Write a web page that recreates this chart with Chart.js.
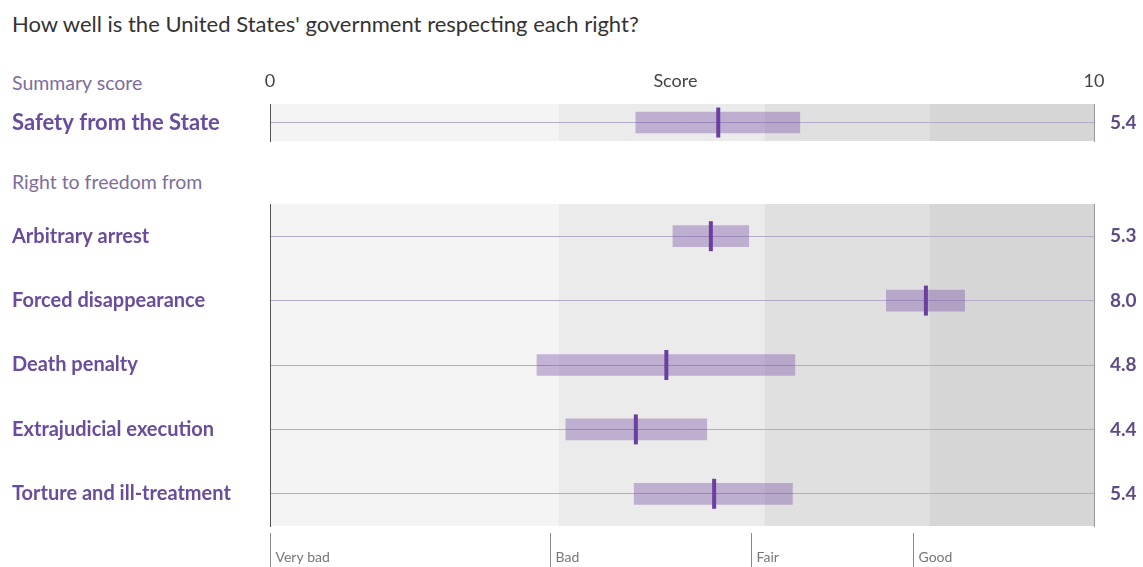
<!DOCTYPE html>
<html>
<head>
    <title>Safety from the State</title>
    <style>
        body{
            margin:0;
            background:#fff;
            font-family:Lato, sans-serif;
            width:1143px;
            height:567px;
            position:relative;
            overflow:hidden;
        }
        h1{
            position:absolute;
            left:12px;
            top:10px;
            margin:0;
            font-size:22px;
            font-weight:normal;
            color:#333;
        }
        .sub{
            position:absolute;
            left:12px;
            font-size:19.5px;
            color:#7d6e9c;
        }
        #summaryWrap{position:absolute;left:0;top:66px;width:1143px;height:80px;}
        #rowsWrap{position:absolute;left:0;top:204px;width:1143px;height:363px;}
    </style>
</head>
<body>
<h1>How well is the United States' government respecting each right?</h1>
<div class="sub" style="top:71px;">Summary score</div>
<div class="sub" style="top:170px;">Right to freedom from</div>

<div id="summaryWrap"><canvas id="summary"></canvas></div>
<div id="rowsWrap"><canvas id="rights"></canvas></div>

<script src="https://cdn.jsdelivr.net/npm/chart.js@4.4.1/dist/chart.umd.min.js"></script>
<script>

    // summary row
    const summaryLabels = ["Safety from the State"];
    const summaryScore = [5.44];
    const summaryLow = [4.44];
    const summaryHigh = [6.43];
    const summaryText = ["5.4"];

    // rights rows
    const rightLabels = ["Arbitrary arrest", "Forced disappearance", "Death penalty", "Extrajudicial execution", "Torture and ill-treatment"];
    const rightScore = [5.35, 7.96, 4.81, 4.44, 5.39];
    const rightLow = [4.89, 7.48, 3.24, 3.59, 4.42];
    const rightHigh = [5.81, 8.43, 6.37, 5.30, 6.34];
    const rightText = ["5.3", "8.0", "4.8", "4.4", "5.4"];

    // background bands and band names
    const bandEdges = [0, 3.5, 6, 8, 10];
    const bandColors = ["#f4f4f4", "#ebebeb", "#e0e0e0", "#d6d6d6"];
    const bandNames = ["Very bad", "Bad", "Fair", "Good"];
    const bandNameAt = [0, 3.4, 5.84, 7.8];

    // top axis
    const topTicks = [0, 4.92, 10];
    const topTickText = ["0", "Score", "10"];

    const bandsPlugin = {
        id: "bands",
        beforeDraw(chart) {
            const ctx = chart.ctx;
            const area = chart.chartArea;
            const x = chart.scales.x;
            ctx.save();
            for (let i = 0; i < bandColors.length; i++) {
                const x0 = x.getPixelForValue(bandEdges[i]);
                const x1 = x.getPixelForValue(bandEdges[i + 1]);
                ctx.fillStyle = bandColors[i];
                ctx.fillRect(x0, area.top, x1 - x0, area.bottom - area.top);
            }
            ctx.restore();
        }
    };

    const bandNamesPlugin = {
        id: "bandNames",
        afterDraw(chart) {
            const ctx = chart.ctx;
            const area = chart.chartArea;
            const x = chart.scales.x;
            ctx.save();
            ctx.font = "14px Lato, sans-serif";
            ctx.textBaseline = "middle";
            ctx.fillStyle = "#777";
            ctx.strokeStyle = "#888";
            ctx.lineWidth = 1;
            bandNames.forEach((name, i) => {
                const px = Math.round(x.getPixelForValue(bandNameAt[i])) + 0.5;
                ctx.beginPath();
                ctx.moveTo(px, area.bottom + 7);
                ctx.lineTo(px, chart.height);
                ctx.stroke();
                ctx.fillText(name, px + 5, area.bottom + 31);
            });
            ctx.restore();
        }
    };

    // vertical axes should not push the plot area in
    function noPad(s) {
        s.paddingTop = 0;
        s.paddingBottom = 0;
    }

    function makeChart(id, labels, low, high, score, text, opts) {
        return new Chart(id, {
            type: "bar",
            data: {
                labels: labels,
                datasets: [{
                    type: "line",
                    indexAxis: "y",
                    data: score,
                    showLine: false,
                    pointStyle: "line",
                    rotation: 90,
                    pointRadius: 15,
                    pointBorderWidth: 4,
                    borderColor: "#6b3fa0",
                    backgroundColor: "#6b3fa0",
                    clip: false,
                    yAxisID: "y"
                }, {
                    data: labels.map((l, i) => [low[i], high[i]]),
                    backgroundColor: "rgba(122,82,167,0.4)",
                    borderWidth: 0,
                    barThickness: 21,
                    yAxisID: "y"
                }]
            },
            options: {
                indexAxis: "y",
                responsive: true,
                maintainAspectRatio: false,
                animation: false,
                events: [],
                layout: { autoPadding: false, padding: { left: 12, right: 0, top: 0, bottom: opts.bottomPad } },
                plugins: { legend: { display: false }, tooltip: { enabled: false } },
                scales: {
                    x: {
                        type: "linear",
                        position: "top",
                        min: 0,
                        max: 10,
                        display: opts.showTop,
                        afterFit: s => { s.height = opts.topHeight; },
                        afterBuildTicks: s => { s.ticks = topTicks.map(v => ({ value: v })); },
                        ticks: {
                            autoSkip: false,
                            maxRotation: 0,
                            padding: 12,
                            color: "#444",
                            font: { family: "Lato", size: 18 },
                            callback: (v, i) => topTickText[i]
                        },
                        grid: { display: false, drawTicks: false },
                        border: { display: false }
                    },
                    y: {
                        type: "category",
                        position: "left",
                        afterFit: s => { s.width = 258; noPad(s); },
                        ticks: {
                            crossAlign: "far",
                            color: "#6a4c9c",
                            font: { family: "Lato", size: opts.labelSize, weight: "bold" }
                        },
                        grid: { offset: false, color: "#b3abc8", lineWidth: 1, drawTicks: false },
                        border: { display: true, color: "#555", width: 1 }
                    },
                    y2: {
                        type: "category",
                        position: "right",
                        offset: true,
                        labels: text,
                        afterFit: s => { s.width = 49; noPad(s); },
                        ticks: {
                            crossAlign: "near",
                            padding: 16,
                            color: "#5f4b85",
                            font: { family: "Lato", size: 19, weight: "bold" }
                        },
                        grid: { display: false, drawTicks: false },
                        border: { display: true, color: "#999", width: 1 }
                    }
                }
            },
            plugins: opts.plugins
        });
    }

    const summaryChart = makeChart("summary", summaryLabels, summaryLow, summaryHigh, summaryScore, summaryText,
        { bottomPad: 5, showTop: true, topHeight: 38, labelSize: 22, plugins: [bandsPlugin] });

    const rightsChart = makeChart("rights", rightLabels, rightLow, rightHigh, rightScore, rightText,
        { bottomPad: 41, showTop: false, topHeight: 0, labelSize: 20, plugins: [bandsPlugin, bandNamesPlugin] });

</script>
</body>
</html>
